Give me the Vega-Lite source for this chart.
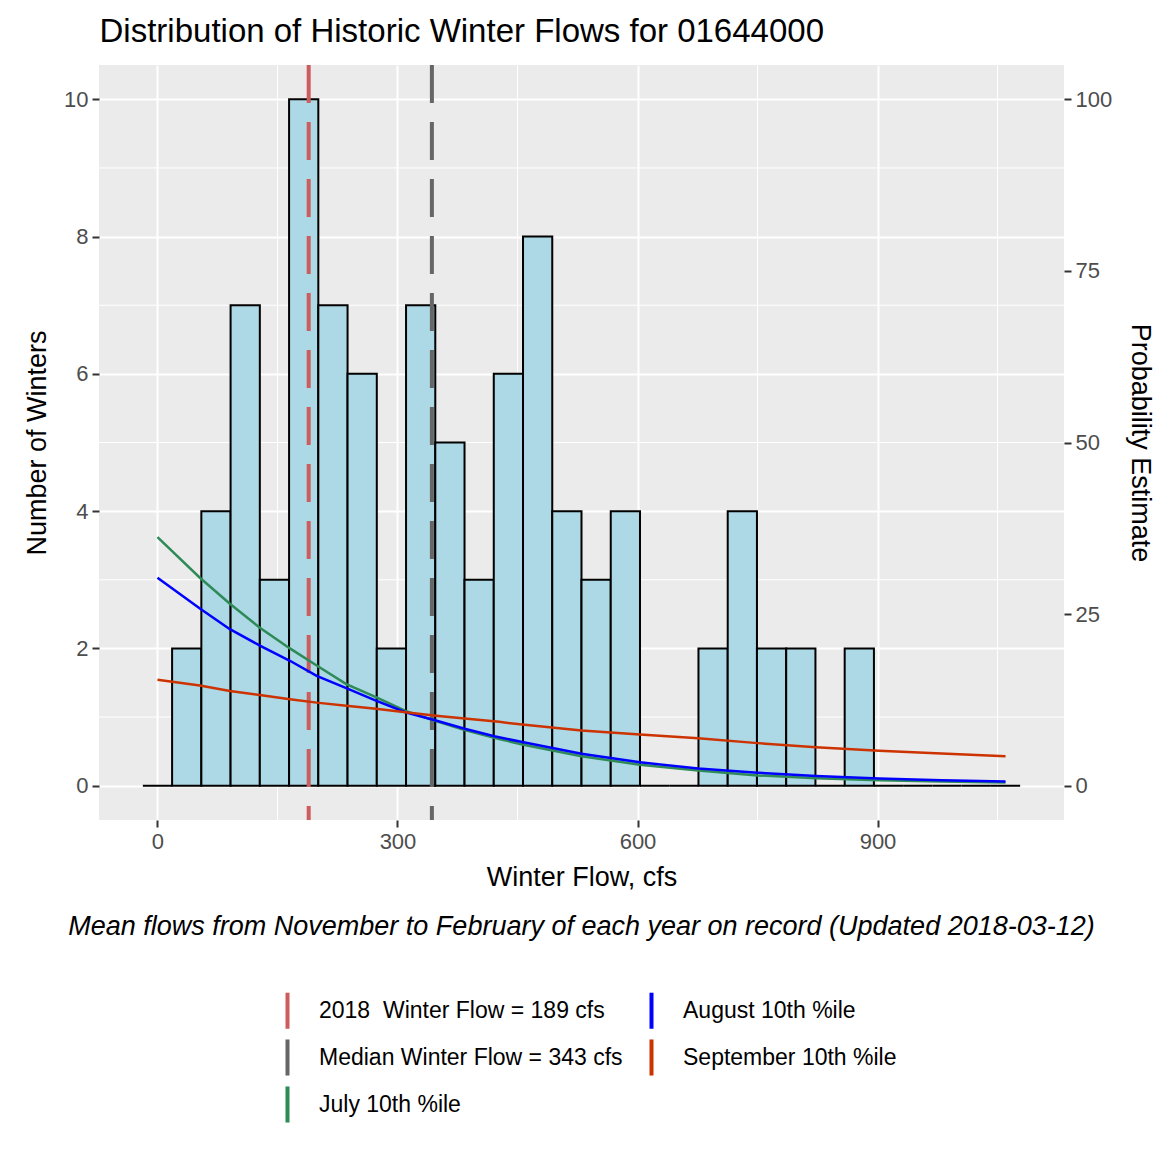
{
  "$schema": "https://vega.github.io/schema/vega-lite/v6.json",
  "background": "white",
  "padding": {"left": 23, "right": 4, "top": 16, "bottom": 10},
  "title": {"text": "Distribution of Historic Winter Flows for 01644000", "anchor": "start", "font": "Liberation Sans", "fontSize": 33, "fontWeight": "normal", "color": "black", "dx": 76, "offset": 14},
  "config": {
    "font": "Liberation Sans",
    "view": {"fill": "#EBEBEB", "stroke": null},
    "axis": {"labelFont": "Liberation Sans", "titleFont": "Liberation Sans", "labelFontSize": 22, "titleFontSize": 27, "titleFontWeight": "normal", "labelColor": "#4D4D4D", "titleColor": "black", "tickColor": "#333333", "tickWidth": 2, "tickSize": 7, "domain": false, "gridColor": "white", "gridWidth": 2, "labelPadding": 4},
    "legend": {"labelFont": "Liberation Sans", "labelFontSize": 23, "labelColor": "black", "labelLimit": 0, "layout": {"bottom": {"anchor": "middle"}}}
  },
  "vconcat": [
    {
      "width": 965,
      "height": 755,
      "title": {"text": "Mean flows from November to February of each year on record (Updated 2018-03-12)", "orient": "bottom", "anchor": "middle", "frame": "group", "fontStyle": "italic", "fontWeight": "normal", "fontSize": 27, "font": "Liberation Sans", "color": "black", "offset": 24},
      "layer": [
        {
          "layer": [
            {
              "data": {"values": [{"count": 1}, {"count": 3}, {"count": 5}, {"count": 7}, {"count": 9}]},
              "mark": {"type": "rule", "color": "white", "strokeWidth": 1},
              "encoding": {"y": {"field": "count", "type": "quantitative"}}
            },
            {
              "data": {"values": [{"start": 150}, {"start": 450}, {"start": 750}, {"start": 1050}]},
              "mark": {"type": "rule", "color": "white", "strokeWidth": 1},
              "encoding": {"x": {"field": "start", "type": "quantitative"}}
            },
            {
              "data": {"values": [
                {"start": -18.276, "end": 18.276, "count": 0},
                {"start": 18.276, "end": 54.828, "count": 2},
                {"start": 54.828, "end": 91.379, "count": 4},
                {"start": 91.379, "end": 127.931, "count": 7},
                {"start": 127.931, "end": 164.483, "count": 3},
                {"start": 164.483, "end": 201.034, "count": 10},
                {"start": 201.034, "end": 237.586, "count": 7},
                {"start": 237.586, "end": 274.138, "count": 6},
                {"start": 274.138, "end": 310.690, "count": 2},
                {"start": 310.690, "end": 347.241, "count": 7},
                {"start": 347.241, "end": 383.793, "count": 5},
                {"start": 383.793, "end": 420.345, "count": 3},
                {"start": 420.345, "end": 456.897, "count": 6},
                {"start": 456.897, "end": 493.448, "count": 8},
                {"start": 493.448, "end": 530.000, "count": 4},
                {"start": 530.000, "end": 566.552, "count": 3},
                {"start": 566.552, "end": 603.103, "count": 4},
                {"start": 603.103, "end": 639.655, "count": 0},
                {"start": 639.655, "end": 676.207, "count": 0},
                {"start": 676.207, "end": 712.759, "count": 2},
                {"start": 712.759, "end": 749.310, "count": 4},
                {"start": 749.310, "end": 785.862, "count": 2},
                {"start": 785.862, "end": 822.414, "count": 2},
                {"start": 822.414, "end": 858.966, "count": 0},
                {"start": 858.966, "end": 895.517, "count": 2},
                {"start": 895.517, "end": 932.069, "count": 0},
                {"start": 932.069, "end": 968.621, "count": 0},
                {"start": 968.621, "end": 1005.172, "count": 0},
                {"start": 1005.172, "end": 1041.724, "count": 0},
                {"start": 1041.724, "end": 1078.276, "count": 0}
              ]},
              "mark": {"type": "rect", "fill": "#ADD8E6", "stroke": "black", "strokeWidth": 2},
              "encoding": {
                "x": {"field": "start", "type": "quantitative", "scale": {"domain": [-73.1, 1133.1], "nice": false, "zero": false}, "axis": {"values": [0, 300, 600, 900], "format": "d", "title": "Winter Flow, cfs", "titlePadding": 12, "grid": true}},
                "x2": {"field": "end"},
                "y": {"field": "count", "type": "quantitative", "scale": {"domain": [-0.5, 10.5], "nice": false, "zero": false}, "axis": {"values": [0, 2, 4, 6, 8, 10], "format": "d", "title": "Number of Winters", "titlePadding": 12, "grid": true}},
                "y2": {"datum": 0}
              }
            },
            {
              "data": {"values": [
                {"start": 189, "series": "2018\u00a0 Winter Flow = 189 cfs"},
                {"start": 343, "series": "Median Winter Flow = 343 cfs"}
              ]},
              "mark": {"type": "rule", "strokeWidth": 4, "strokeDash": [38, 19]},
              "encoding": {
                "x": {"field": "start", "type": "quantitative"},
                "color": {
                  "field": "series",
                  "type": "nominal",
                  "scale": {
                    "domain": ["2018\u00a0 Winter Flow = 189 cfs", "August 10th %ile", "Median Winter Flow = 343 cfs", "September 10th %ile", "July 10th %ile"],
                    "range": ["#CD5C5C", "#0000FF", "#666666", "#CC3300", "#2E8B57"]
                  },
                  "legend": {"orient": "bottom", "title": null, "columns": 2, "symbolType": "M0,-1L0,1", "symbolSize": 1300, "symbolStrokeWidth": 4, "symbolDash": [], "rowPadding": -7, "columnPadding": 8, "labelOffset": 11, "offset": 50, "direction": "horizontal"}
                }
              }
            }
          ]
        },
        {
          "data": {"values": [
            {"start": 0, "prob": 36.2, "series": "July 10th %ile"},
            {"start": 53, "prob": 30.3, "series": "July 10th %ile"},
            {"start": 90.5, "prob": 26.5, "series": "July 10th %ile"},
            {"start": 128, "prob": 23.0, "series": "July 10th %ile"},
            {"start": 165.5, "prob": 20.0, "series": "July 10th %ile"},
            {"start": 199, "prob": 17.5, "series": "July 10th %ile"},
            {"start": 236, "prob": 14.8, "series": "July 10th %ile"},
            {"start": 273, "prob": 12.9, "series": "July 10th %ile"},
            {"start": 310, "prob": 10.9, "series": "July 10th %ile"},
            {"start": 348, "prob": 9.4, "series": "July 10th %ile"},
            {"start": 384, "prob": 8.1, "series": "July 10th %ile"},
            {"start": 427, "prob": 6.8, "series": "July 10th %ile"},
            {"start": 456, "prob": 6.0, "series": "July 10th %ile"},
            {"start": 530, "prob": 4.3, "series": "July 10th %ile"},
            {"start": 603, "prob": 3.05, "series": "July 10th %ile"},
            {"start": 676, "prob": 2.2, "series": "July 10th %ile"},
            {"start": 750, "prob": 1.5, "series": "July 10th %ile"},
            {"start": 823, "prob": 1.1, "series": "July 10th %ile"},
            {"start": 902, "prob": 0.8, "series": "July 10th %ile"},
            {"start": 980, "prob": 0.6, "series": "July 10th %ile"},
            {"start": 1060, "prob": 0.45, "series": "July 10th %ile"},
            {"start": 0, "prob": 30.3, "series": "August 10th %ile"},
            {"start": 53, "prob": 25.8, "series": "August 10th %ile"},
            {"start": 90.5, "prob": 22.8, "series": "August 10th %ile"},
            {"start": 128, "prob": 20.4, "series": "August 10th %ile"},
            {"start": 165.5, "prob": 18.2, "series": "August 10th %ile"},
            {"start": 199, "prob": 16.0, "series": "August 10th %ile"},
            {"start": 236, "prob": 14.2, "series": "August 10th %ile"},
            {"start": 273, "prob": 12.4, "series": "August 10th %ile"},
            {"start": 310, "prob": 10.7, "series": "August 10th %ile"},
            {"start": 348, "prob": 9.5, "series": "August 10th %ile"},
            {"start": 384, "prob": 8.3, "series": "August 10th %ile"},
            {"start": 421, "prob": 7.2, "series": "August 10th %ile"},
            {"start": 456, "prob": 6.35, "series": "August 10th %ile"},
            {"start": 530, "prob": 4.65, "series": "August 10th %ile"},
            {"start": 603, "prob": 3.4, "series": "August 10th %ile"},
            {"start": 676, "prob": 2.5, "series": "August 10th %ile"},
            {"start": 750, "prob": 1.9, "series": "August 10th %ile"},
            {"start": 823, "prob": 1.4, "series": "August 10th %ile"},
            {"start": 902, "prob": 1.05, "series": "August 10th %ile"},
            {"start": 980, "prob": 0.8, "series": "August 10th %ile"},
            {"start": 1060, "prob": 0.6, "series": "August 10th %ile"},
            {"start": 0, "prob": 15.45, "series": "September 10th %ile"},
            {"start": 53, "prob": 14.6, "series": "September 10th %ile"},
            {"start": 90.5, "prob": 13.8, "series": "September 10th %ile"},
            {"start": 128, "prob": 13.2, "series": "September 10th %ile"},
            {"start": 165.5, "prob": 12.6, "series": "September 10th %ile"},
            {"start": 199, "prob": 12.1, "series": "September 10th %ile"},
            {"start": 236, "prob": 11.65, "series": "September 10th %ile"},
            {"start": 273, "prob": 11.2, "series": "September 10th %ile"},
            {"start": 310, "prob": 10.7, "series": "September 10th %ile"},
            {"start": 348, "prob": 10.2, "series": "September 10th %ile"},
            {"start": 384, "prob": 9.8, "series": "September 10th %ile"},
            {"start": 427, "prob": 9.3, "series": "September 10th %ile"},
            {"start": 456, "prob": 8.9, "series": "September 10th %ile"},
            {"start": 530, "prob": 8.05, "series": "September 10th %ile"},
            {"start": 603, "prob": 7.45, "series": "September 10th %ile"},
            {"start": 676, "prob": 6.9, "series": "September 10th %ile"},
            {"start": 750, "prob": 6.2, "series": "September 10th %ile"},
            {"start": 823, "prob": 5.6, "series": "September 10th %ile"},
            {"start": 902, "prob": 5.1, "series": "September 10th %ile"},
            {"start": 980, "prob": 4.7, "series": "September 10th %ile"},
            {"start": 1060, "prob": 4.3, "series": "September 10th %ile"}
          ]},
          "mark": {"type": "line", "strokeWidth": 2.5},
          "encoding": {
            "x": {"field": "start", "type": "quantitative"},
            "y": {"field": "prob", "type": "quantitative", "scale": {"domain": [-5, 105], "nice": false, "zero": false}, "axis": {"orient": "right", "values": [0, 25, 50, 75, 100], "title": "Probability Estimate", "titlePadding": 14, "grid": false}},
            "color": {
              "field": "series",
              "type": "nominal",
              "scale": {
                "domain": ["2018\u00a0 Winter Flow = 189 cfs", "August 10th %ile", "Median Winter Flow = 343 cfs", "September 10th %ile", "July 10th %ile"],
                "range": ["#CD5C5C", "#0000FF", "#666666", "#CC3300", "#2E8B57"]
              },
              "legend": {"orient": "bottom", "title": null, "columns": 2, "symbolType": "M0,-1L0,1", "symbolSize": 1300, "symbolStrokeWidth": 4, "symbolDash": [], "rowPadding": -7, "columnPadding": 8, "labelOffset": 11, "offset": 50, "direction": "horizontal"}
            }
          }
        }
      ],
      "resolve": {"scale": {"y": "independent"}}
    }
  ],
  "resolve": {"scale": {"color": "shared"}, "legend": {"color": "shared"}}
}
